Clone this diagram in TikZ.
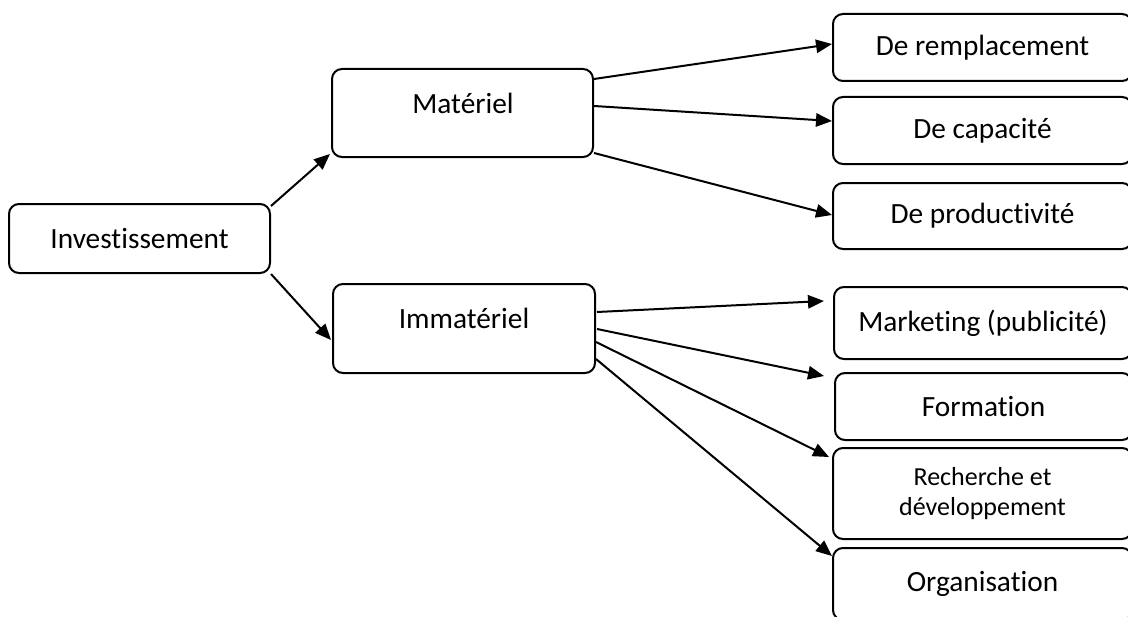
\documentclass[tikz,border=0pt]{standalone}
\usepackage{fontspec}
\setmainfont{Carlito}[Ligatures=NoCommon]
\usetikzlibrary{arrows.meta,calc}
\begin{document}
\begin{tikzpicture}[x=0.75pt,y=-0.75pt,
  box/.style={draw=black,line width=1.5pt,rounded corners=7.5pt,fill=white,inner sep=0pt,
    font=\fontsize{22}{26}\selectfont,align=center},
  lbl/.style={inner sep=0pt,font=\fontsize{22}{26}\selectfont},
  arr/.style={line width=1.5pt,-{Triangle[length=12pt,width=10pt]}}]
\useasboundingbox (0,0) rectangle (1128,617);
\clip (0,0) rectangle (1128,617);
% left and middle boxes
\node[box,minimum width=195.75pt,minimum height=51.75pt] (inv) at (139.5,238.5) {Investissement};
\node[box,minimum width=195.75pt,minimum height=66pt] (mat) at (462.5,113) {};
\node[lbl] (matl) at (463,103) {Matériel};
\node[box,minimum width=196.5pt,minimum height=66.75pt] (imm) at (464,328.5) {};
\node[lbl] (imml) at (464,318) {Immatériel};
% right boxes
\node[box,minimum width=224.25pt,minimum height=50.25pt] (rem) at (982.5,47.5) {De remplacement};
\node[box,minimum width=224.25pt,minimum height=50.25pt] (cap) at (982.5,130.5) {De capacité};
\node[box,minimum width=224.25pt,minimum height=49.5pt] (pro) at (982.5,216) {De productivité};
\node[box,minimum width=223.5pt,minimum height=54pt] (mkt) at (983,323) {Marketing (publicité)};
\node[box,minimum width=222.75pt,minimum height=50.25pt] (for) at (983.5,406.5) {Formation};
\node[box,minimum width=224.25pt,minimum height=68.25pt,font=\fontsize{19.5}{22.5}\selectfont] (rec) at (982.5,493.5) {Recherche et\\développement};
\node[box,minimum width=224.25pt,minimum height=54pt] (org) at (982.5,584) {Organisation};
% connectors
\draw[arr] ($(inv.north east)+(0,3)$) -- ($(mat.south west)+(-1,-4)$);
\draw[arr] (inv.south east) -- ($(imm.west)+(-1,11.5)$);
\draw[arr] ($(mat.north east)+(0,11)$) -- ($(rem.west)+(0,-3.5)$);
\draw[arr] ($(mat.north east)+(0,38)$) -- ($(cap.north west)+(0,25)$);
\draw[arr] ($(mat.south east)+(0,-5)$) -- ($(pro.west)+(0,-1)$);
\draw[arr] ($(imm.north east)+(1,29)$) -- ($(mkt.north west)+(-9,15)$);
\draw[arr] ($(imm.north east)+(1,46)$) -- ($(for.north west)+(-10,4)$);
\draw[arr] ($(imm.north east)+(0,59)$) -- ($(rec.north west)+(-3,10)$);
\draw[arr] ($(imm.north east)+(0,76)$) -- ($(org.north west)+(0,9)$);
\end{tikzpicture}
\end{document}
